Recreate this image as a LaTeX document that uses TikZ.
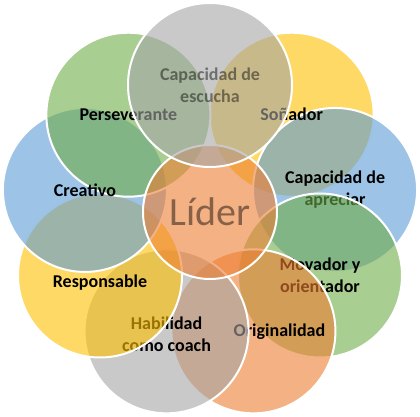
\documentclass[tikz,border=0pt]{standalone}
\usepackage{fontspec}
\setmainfont{Carlito}
\usepackage{tikz}

\definecolor{accgray}{HTML}{A5A5A5}
\definecolor{accgold}{HTML}{FFC000}
\definecolor{accblue}{HTML}{5B9BD5}
\definecolor{accgreen}{HTML}{70AD47}
\definecolor{accorange}{HTML}{ED7D31}

\begin{document}
\begin{tikzpicture}[
      x=1bp, y=1bp,
      petal/.style={circle, draw=white, line width=2bp, fill opacity=0.6, minimum size=164bp, inner sep=0pt},
      hub/.style={circle, draw=white, line width=2bp, fill=accorange, fill opacity=0.6, text opacity=0.45, minimum size=134bp, inner sep=0pt, font=\fontsize{40bp}{40bp}\selectfont},
      tag/.style={align=center, text=black, font=\fontsize{18bp}{22bp}\selectfont\bfseries},
      dimtag/.style={tag, text opacity=0.45}
    ]
      \useasboundingbox (0,0) rectangle (420,417);
      \coordinate (mid) at (210,205);

      \node[petal, fill=accgold] (sonador) at ([shift={(50:127)}]mid) {};
      \node[petal, fill=accblue] (apreciar) at ([shift={(10:127)}]mid) {};
      \node[tag] (t-sonador) at (sonador) {Soñador};
      \node[tag] (t-apreciar) at (apreciar) {Capacidad de\\apreciar};
      \node[petal, fill=accgreen] (movador) at ([shift={(-30:127)}]mid) {};
      \node[tag] (t-movador) at (movador) {Movador y\\orientador};
      \node[petal, fill=accorange] (orig) at ([shift={(-70:127)}]mid) {};
      \node[tag] (t-orig) at ([xshift=26bp]orig) {Originalidad};
      \node[petal, fill=accgray] (coach) at ([shift={(-110:127)}]mid) {};
      \node[tag] (t-coach) at ([yshift=-3bp]coach) {Habilidad\\como coach};
      \node[petal, fill=accgold] (resp) at ([shift={(-150:127)}]mid) {};
      \node[tag] (t-resp) at ([yshift=-7bp]resp) {Responsable};
      \node[petal, fill=accblue] (creat) at ([shift={(170:127)}]mid) {};
      \node[petal, fill=accgreen] (perse) at ([shift={(130:127)}]mid) {};
      \node[tag] (t-creat) at (creat) {Creativo};
      \node[tag] (t-perse) at (perse) {Perseverante};

      \node[hub] (lider) at (mid) {Líder};

      \node[petal, fill=accgray] (escucha) at ([shift={(90:127)}]mid) {};
      \node[dimtag] (t-escucha) at (escucha) {Capacidad de\\escucha};
    \end{tikzpicture}
\end{document}
